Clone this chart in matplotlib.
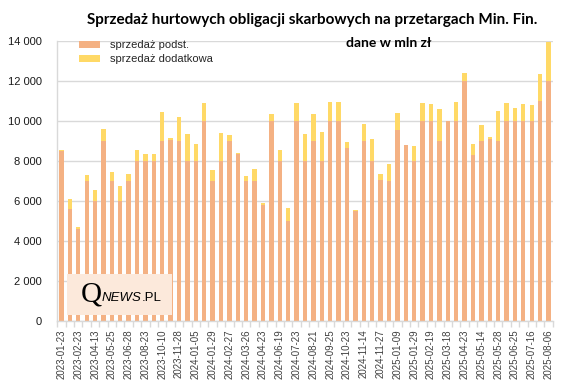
import matplotlib
matplotlib.use('Agg')
import matplotlib.pyplot as plt
from matplotlib.patches import Rectangle

plt.rcParams['font.family'] = ['Liberation Sans', 'DejaVu Sans']

# etykiety osi X (co druga aukcja)
tick_labels = ['2023-01-23', '2023-02-23', '2023-04-13', '2023-05-25', '2023-06-28',
               '2023-08-23', '2023-10-10', '2023-11-28', '2024-01-05', '2024-01-29',
               '2024-02-27', '2024-03-26', '2024-04-23', '2024-06-19', '2024-07-23',
               '2024-08-21', '2024-09-25', '2024-10-23', '2024-11-14', '2024-11-27',
               '2025-01-09', '2025-01-29', '2025-02-19', '2025-03-18', '2025-04-23',
               '2025-05-14', '2025-05-28', '2025-06-25', '2025-07-16', '2025-08-06']

# sprzedaz podstawowa, mln zl
podst = [8500, 5600, 4600, 7000, 6000, 9000, 7000, 6000, 7000, 8000,
         8000, 8000, 9000, 9050, 9000, 8000, 8000, 10000, 7000, 8000,
         9000, 8350, 7000, 7000, 5800, 10000, 8000, 5000, 10000, 8000,
         9000, 8000, 10000, 10000, 8650, 5500, 9000, 8000, 7050, 7000,
         9550, 8800, 8000, 10000, 10000, 9000, 10000, 10000, 12000, 8300,
         9000, 9100, 9000, 10000, 10000, 10000, 10000, 11000, 12000]

# sprzedaz dodatkowa, mln zl
dodat = [50, 500, 100, 300, 550, 600, 430, 750, 350, 550,
         350, 350, 1470, 100, 1200, 1350, 850, 900, 550, 1400,
         300, 50, 250, 600, 100, 350, 550, 650, 900, 1350,
         1350, 1450, 950, 950, 300, 50, 850, 1100, 300, 850,
         850, 0, 750, 900, 850, 1600, 0, 950, 400, 550,
         800, 100, 1500, 900, 650, 850, 800, 1350, 1950]

c_podst = '#F4B183'
c_dodat = '#FFD966'
grid_c = '#D9D9D9'

fig = plt.figure(figsize=(5.67, 3.87), dpi=100)
ax = fig.add_axes([57.3 / 567, 66 / 387, 495.4 / 567, 280 / 387])

x = list(range(len(podst)))
b1 = ax.bar(x, podst, width=0.52, color=c_podst, label='sprzedaż podst.', zorder=2)
b2 = ax.bar(x, dodat, width=0.52, bottom=podst, color=c_dodat,
            label='sprzedaż dodatkowa', zorder=2)

ax.set_xlim(-0.5, len(podst) - 0.5)
ax.set_ylim(0, 14000)
ax.set_yticks(range(0, 14001, 2000))
ax.set_yticklabels([f'{v:,}'.replace(',', ' ') for v in range(0, 14001, 2000)])
ax.yaxis.grid(True, color=grid_c, linewidth=1, zorder=0)
ax.set_axisbelow(True)

ax.set_xticks(x[::2])
ax.set_xticklabels(tick_labels, rotation=90, fontsize=7, color='#404040')
ax.set_xticks([i - 0.5 for i in range(len(podst) + 1)], minor=True)
ax.tick_params(axis='x', which='major', length=0, pad=6)
ax.tick_params(axis='x', which='minor', length=4, color=grid_c, width=1)
ax.tick_params(axis='y', length=0, labelsize=8, pad=11, labelcolor='#1a1a1a')

for s in ['top', 'right']:
    ax.spines[s].set_visible(False)
for s in ['left', 'bottom']:
    ax.spines[s].set_color(grid_c)
    ax.spines[s].set_linewidth(1)

ax.legend(handles=[b1, b2], loc='upper left', bbox_to_anchor=(79 / 567, 1 - 40 / 387),
          bbox_transform=fig.transFigure, frameon=False, fontsize=8,
          handlelength=1.9, handleheight=0.6, handletextpad=0.9, labelspacing=0.4,
          borderpad=0, borderaxespad=0, labelcolor='#262626')

fig.text(312 / 567, 1 - 20 / 387,
         'Sprzedaż hurtowych obligacji skarbowych na przetargach Min. Fin.',
         ha='center', va='center', fontsize=11, fontweight='bold', family='Lato')
fig.text(389 / 567, 1 - 43 / 387, 'dane w mln zł', ha='center', va='center',
         fontsize=10, fontweight='bold', family='Lato')

# znak wodny
fig.patches.append(Rectangle((67 / 567, 1 - 315 / 387), 105 / 567, 41 / 387,
                             transform=fig.transFigure, facecolor='#FCE9DB',
                             edgecolor='none', zorder=5))
r = fig.canvas.get_renderer()
base_y = 1 - 301 / 387
tq = fig.text(81 / 567, base_y, 'Q', fontsize=21, family='Liberation Serif',
              color='black', zorder=6)
x_next = tq.get_window_extent(r).x1 / 567
tn = fig.text(x_next, base_y, 'NEWS', fontsize=9.5, style='italic',
              color='black', zorder=6)
x_next = tn.get_window_extent(r).x1 / 567
fig.text(x_next, base_y, '.PL', fontsize=9.5, color='black', zorder=6)

fig.savefig('out.png', dpi=100)
